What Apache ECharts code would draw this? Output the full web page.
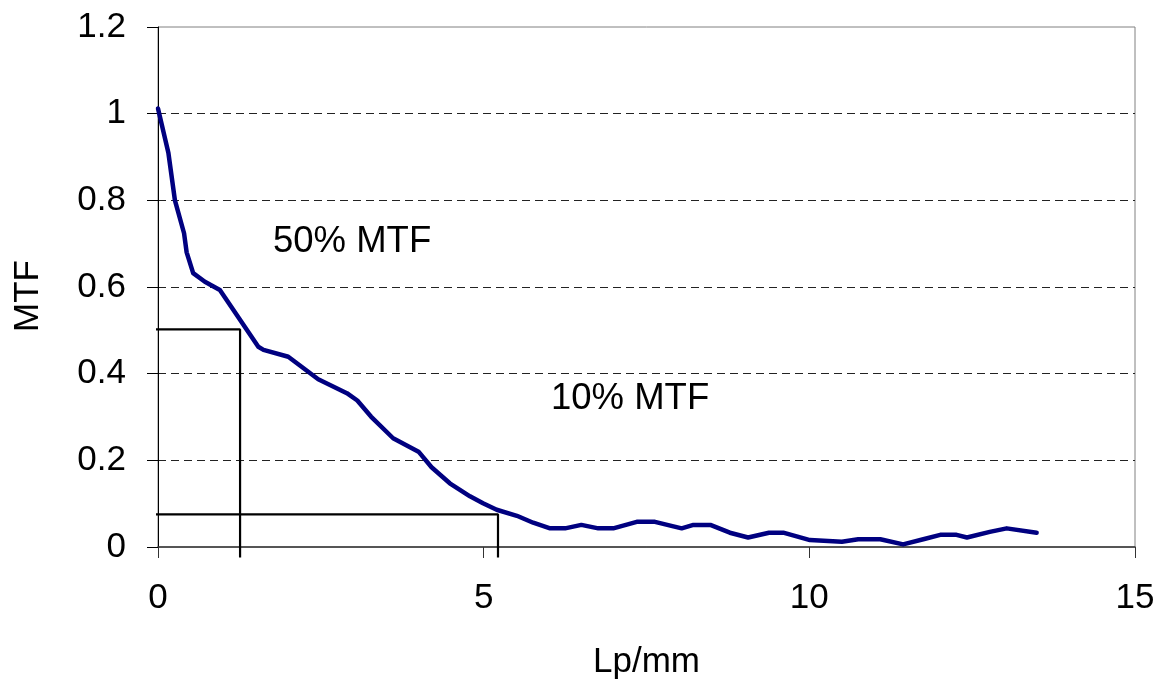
<!DOCTYPE html>
<html>
<head>
<meta charset="utf-8">
<title>MTF</title>
<script src="https://cdn.jsdelivr.net/npm/echarts@6/dist/echarts.min.js"></script>
<style>
  html, body { margin: 0; padding: 0; background: #fff; }
  #chart { width: 1168px; height: 687px; }
</style>
</head>
<body>
<div id="chart"></div>
<script>
// Measured MTF curve (spatial frequency in Lp/mm, modulation)
const freqLpmm = [0, 0.16, 0.26, 0.40, 0.44, 0.54, 0.72, 0.95, 1.54, 1.62, 2.0, 2.46, 2.90, 3.06, 3.27,
  3.61, 4.0, 4.2, 4.48, 4.79, 4.99, 5.2, 5.51, 5.76, 6.02, 6.25, 6.5, 6.76, 6.99, 7.35, 7.63, 8.04, 8.22,
  8.48, 8.78, 9.06, 9.38, 9.6, 10.01, 10.5, 10.75, 11.09, 11.44, 11.75, 12.01, 12.26, 12.42, 12.77, 13.03, 13.49];
const mtfValues = [1.012, 0.909, 0.80, 0.724, 0.68, 0.632, 0.612, 0.593, 0.462, 0.455, 0.439, 0.387, 0.355, 0.338, 0.301,
  0.251, 0.220, 0.184, 0.147, 0.117, 0.101, 0.086, 0.072, 0.056, 0.043, 0.043, 0.051, 0.043, 0.043, 0.058, 0.058, 0.043, 0.051,
  0.051, 0.033, 0.022, 0.033, 0.033, 0.016, 0.012, 0.018, 0.018, 0.006, 0.018, 0.028, 0.028, 0.022, 0.035, 0.043, 0.033];

// Guide lines marking the 50% and 10% MTF read-offs (x, y pairs; they run slightly past the axes)
const guide50X = [-0.25, 1.26, 1.26];
const guide50Y = [0.502, 0.502, -0.024];
const guide10X = [-0.25, 5.22, 5.22];
const guide10Y = [0.0755, 0.0755, -0.024];

// Axis ranges and steps
const xRange = [0, 15], xStep = 5;
const yRange = [0, 1.2], yStep = 0.2;

const annotations = ['50% MTF', '10% MTF'];

const zip = (xs, ys) => xs.map((x, i) => [x, ys[i]]);
const FONT = '"Liberation Sans", Arial, sans-serif';

const chart = echarts.init(document.getElementById('chart'), null, { renderer: 'canvas' });
chart.setOption({
  animation: false,
  backgroundColor: '#ffffff',
  textStyle: { fontFamily: FONT },
  grid: {
    left: 158, right: 33, top: 27, bottom: 140,
    show: true, borderColor: '#808080', borderWidth: 1, backgroundColor: 'transparent'
  },
  xAxis: {
    type: 'value',
    min: xRange[0], max: xRange[1], interval: xStep,
    name: 'Lp/mm', nameLocation: 'middle', nameGap: 98,
    nameTextStyle: { fontSize: 35, color: '#000', fontFamily: FONT },
    axisLine: { show: true, onZero: false, lineStyle: { color: '#333', width: 1.5 } },
    axisTick: { show: true, inside: false, length: 11, lineStyle: { color: '#333', width: 1 } },
    axisLabel: { fontSize: 35, color: '#000', margin: 34, fontFamily: FONT },
    splitLine: { show: false }
  },
  yAxis: {
    type: 'value',
    min: yRange[0], max: yRange[1], interval: yStep,
    name: 'MTF', nameLocation: 'middle', nameGap: 112, nameRotate: 90,
    nameTextStyle: { fontSize: 35, color: '#000', fontFamily: FONT, padding: [0, 18, 0, 0] },
    axisLine: { show: true, onZero: false, lineStyle: { color: '#000', width: 1 } },
    axisTick: { show: true, inside: false, length: 11, lineStyle: { color: '#000', width: 1 } },
    axisLabel: { fontSize: 35, color: '#000', margin: 32, fontFamily: FONT },
    splitLine: {
      show: true, showMinLine: false, showMaxLine: false,
      lineStyle: { color: '#222', width: 1, type: [8, 5] }
    }
  },
  graphic: [
    { type: 'text', left: 273, top: 223, z: 10,
      style: { text: annotations[0], fontSize: 36.5, fontFamily: FONT, fill: '#000' } },
    { type: 'text', left: 551, top: 380, z: 10,
      style: { text: annotations[1], fontSize: 36.5, fontFamily: FONT, fill: '#000' } }
  ],
  series: [
    {
      name: '50% guide', type: 'line', data: zip(guide50X, guide50Y),
      showSymbol: false, clip: false, silent: true, z: 3,
      lineStyle: { color: '#000', width: 2.2 }
    },
    {
      name: '10% guide', type: 'line', data: zip(guide10X, guide10Y),
      showSymbol: false, clip: false, silent: true, z: 3,
      lineStyle: { color: '#000', width: 2.2 }
    },
    {
      name: 'MTF', type: 'line', data: zip(freqLpmm, mtfValues),
      showSymbol: false, smooth: false, z: 4,
      lineStyle: { color: '#000080', width: 4.5, join: 'round', cap: 'round' }
    }
  ]
});
</script>
</body>
</html>
